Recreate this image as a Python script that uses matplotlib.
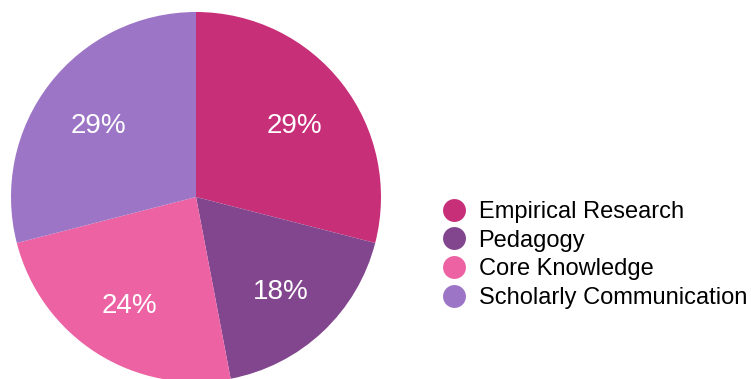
import matplotlib.pyplot as plt
from matplotlib.lines import Line2D
from matplotlib.transforms import ScaledTranslation

plt.rcParams['font.family'] = ['Liberation Sans', 'DejaVu Sans']

categories = ['Empirical Research', 'Pedagogy', 'Core Knowledge', 'Scholarly Communication']
shares = [29, 18, 24, 29]
colors = ['#C82F79', '#82468E', '#EC62A3', '#9D75C7']

W, H = 751, 379
fig = plt.figure(figsize=(W / 100, H / 100), dpi=100)

# pie centred at (196, 197) px from the top-left, radius 185 px
cx, cy, r = 196, 197, 185
ax = fig.add_axes([(cx - r) / W, (H - cy - r) / H, 2 * r / W, 2 * r / H])
wedges, texts, autotexts = ax.pie(
    shares, colors=colors, startangle=90, counterclock=False,
    autopct='%d%%', pctdistance=0.67, radius=1.0,
    wedgeprops=dict(linewidth=0),
    textprops=dict(color='white', fontsize=20))
# nudge the percentages down so the digits sit centred on their anchor
nudge = ScaledTranslation(0, -4.5 / 100, fig.dpi_scale_trans)
for t, v in zip(autotexts, shares):
    t.set_text(f'{v}%')
    t.set_transform(t.get_transform() + nudge)
ax.set_xlim(-1, 1)
ax.set_ylim(-1, 1)
ax.set_aspect('equal')
ax.axis('off')

handles = [Line2D([], [], marker='o', linestyle='', markersize=16.5,
                  markerfacecolor=c, markeredgecolor='none') for c in colors]
fig.legend(handles, categories, loc='center left',
           bbox_to_anchor=(442 / W, (H - 255) / H),
           frameon=False, fontsize=17, handlelength=1.0,
           handletextpad=0.55, labelspacing=0.28,
           borderpad=0, borderaxespad=0)

fig.savefig('out.png', dpi=100)
